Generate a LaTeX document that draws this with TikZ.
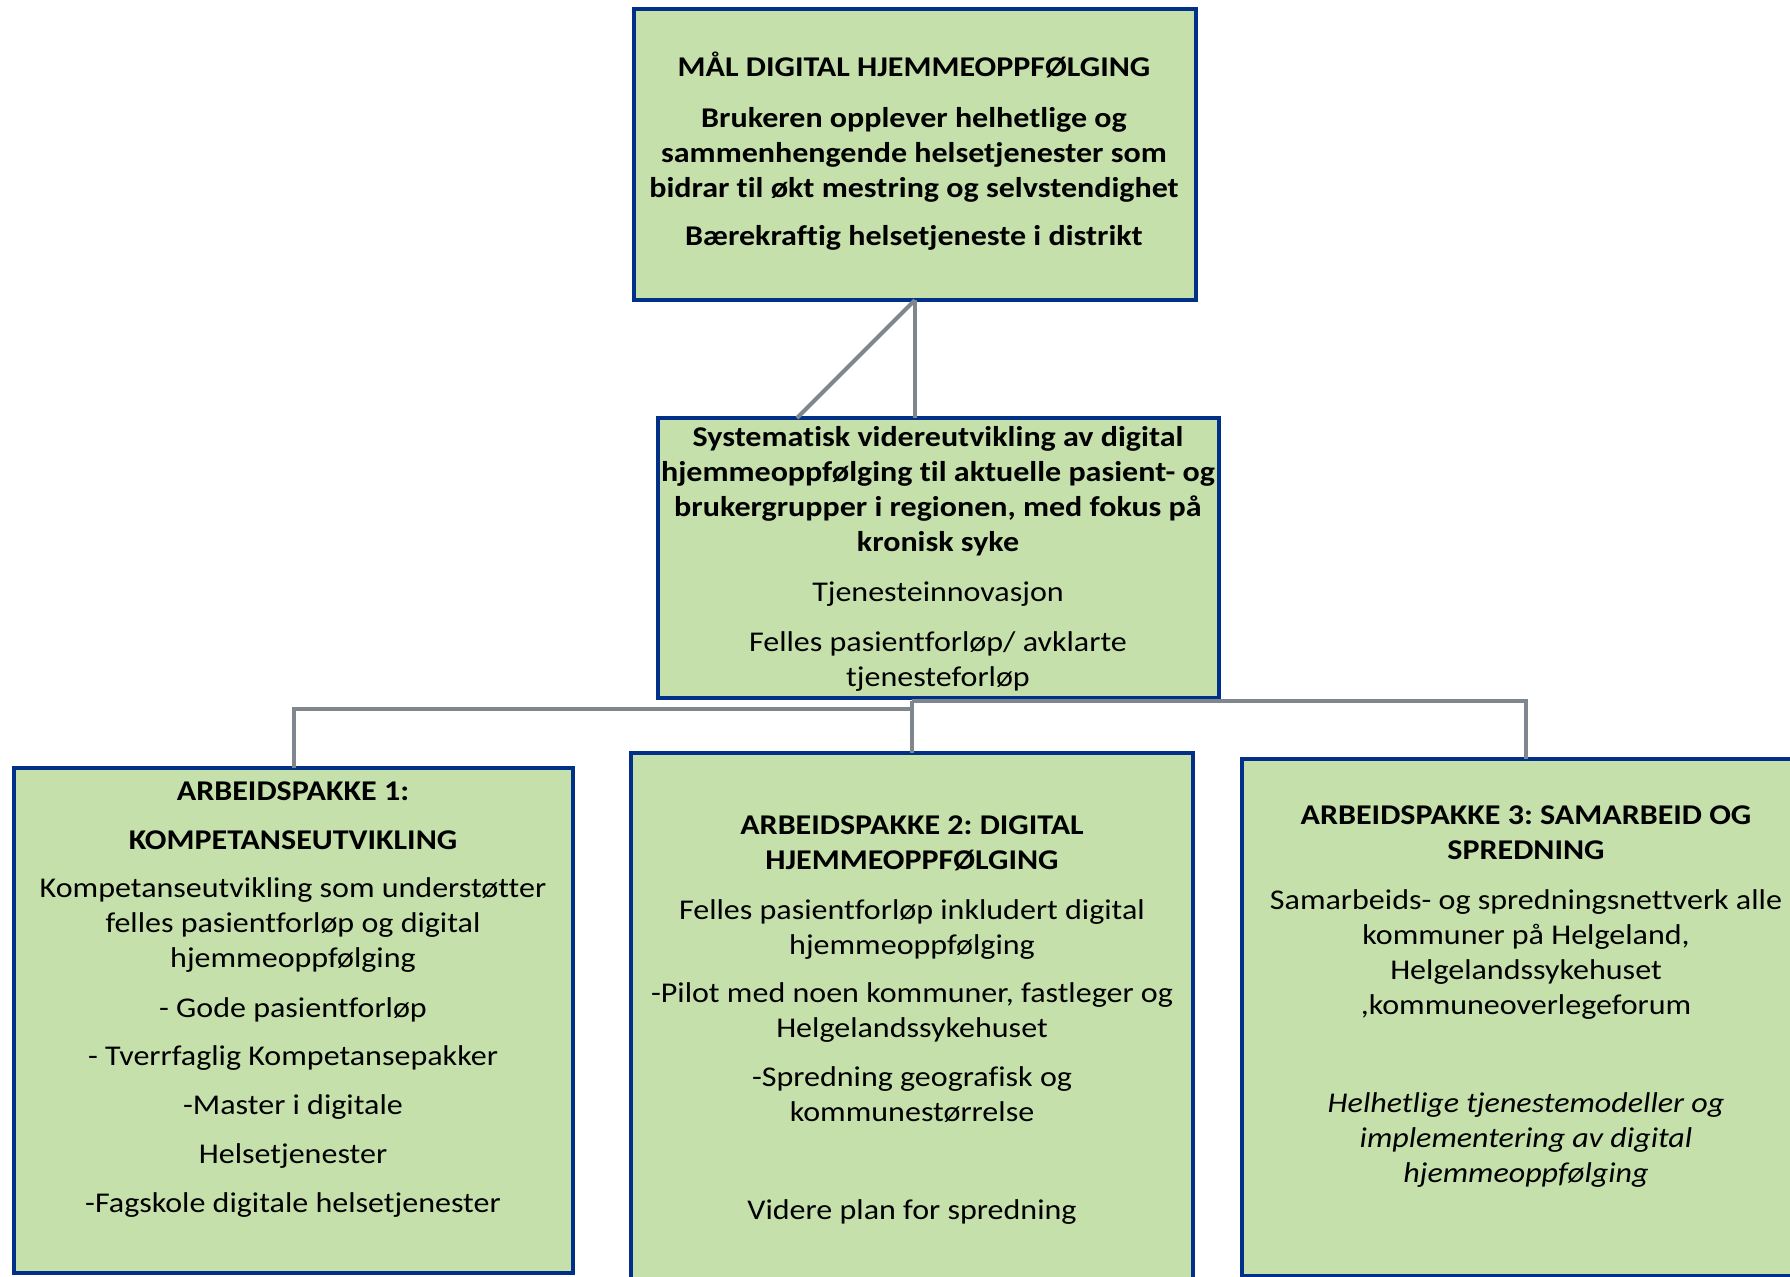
\documentclass[tikz,border=0pt]{standalone}
\usepackage{fontspec}
\setmainfont{Carlito}[FakeStretch=1.12, Ligatures=NoCommon]
\usetikzlibrary{calc}
\definecolor{boxfill}{RGB}{197,224,171}
\definecolor{boxline}{RGB}{0,48,135}
\definecolor{connline}{RGB}{128,134,142}
\frenchspacing
\begin{document}
\begin{tikzpicture}[x=0.5pt,y=-0.5pt,
  box/.style={draw=boxline, fill=boxfill, line width=2pt, inner sep=0pt, outer sep=0pt, anchor=north west},
  conn/.style={draw=connline, line width=2pt},
  txt/.style={font=\fontsize{14.3pt}{17.5pt}\selectfont\frenchspacing, align=center, anchor=base, inner sep=0pt},
  txtb/.style={font=\fontsize{14.3pt}{17.5pt}\selectfont\bfseries\frenchspacing, align=center, anchor=base, inner sep=0pt},
  txti/.style={font=\fontsize{14.3pt}{17.5pt}\selectfont\itshape\frenchspacing, align=center, anchor=base, inner sep=0pt}]
\useasboundingbox (0,0) rectangle (1790,1276);
\clip (0,0) rectangle (1790,1276);

% boxes
\node[box, minimum width=281pt, minimum height=145.5pt] (top) at (634,9) {};
\node[box, minimum width=280.5pt, minimum height=140pt] (mid) at (658,418) {};
\node[box, minimum width=279.5pt, minimum height=252.5pt] (box1) at (14,768) {};
\node[box, minimum width=281pt, minimum height=270pt] (box2) at (631,753) {};
\node[box, minimum width=284pt, minimum height=258.5pt] (box3) at (1242,759) {};

% connectors
\coordinate (hub) at (912,701);
\coordinate (elbow) at (912,709);
\draw[conn] (top.south) -- (top.south |- mid.north);
\draw[conn] (top.south) -- ($(mid.north west)+(139,0)$);
\draw[conn] (hub) -- (box2.north);
\draw[conn] (hub) -| (box3.north);
\draw[conn] (box1.north) |- (elbow) -- (hub);

% top box text (y = baseline of last line)
\node[txtb] (t1) at (914,76) {MÅL DIGITAL HJEMMEOPPFØLGING};
\node[txtb] (t2) at (914,197) {Brukeren opplever helhetlige og\\sammenhengende helsetjenester som\\bidrar til økt mestring og selvstendighet};
\node[txtb] (t3) at (914,245) {Bærekraftig helsetjeneste i distrikt};

% middle box text
\node[txtb] (m1) at (938,551) {Systematisk videreutvikling av digital\\hjemmeoppfølging til aktuelle pasient- og\\brukergrupper i regionen, med fokus på\\kronisk syke};
\node[txt] (m2) at (938,601) {Tjenesteinnovasjon};
\node[txt] (m3) at (938,686) {Felles pasientforløp/ avklarte\\tjenesteforløp};

% box 1 text
\node[txtb] (a1) at (293,800) {ARBEIDSPAKKE 1:};
\node[txtb] (a2) at (293,849) {KOMPETANSEUTVIKLING};
\node[txt] (a3) at (293,967) {Kompetanseutvikling som understøtter\\felles pasientforløp og digital\\hjemmeoppfølging};
\node[txt] (a4) at (293,1017) {- Gode pasientforløp};
\node[txt] (a5) at (293,1065) {- Tverrfaglig Kompetansepakker};
\node[txt] (a6) at (293,1114) {-Master i digitale};
\node[txt] (a7) at (293,1163) {Helsetjenester};
\node[txt] (a8) at (293,1212) {-Fagskole digitale helsetjenester};

% box 2 text
\node[txtb] (b1) at (912,869) {ARBEIDSPAKKE 2: DIGITAL\\HJEMMEOPPFØLGING};
\node[txt] (b2) at (912,954) {Felles pasientforløp inkludert digital\\hjemmeoppfølging};
\node[txt] (b3) at (912,1037) {-Pilot med noen kommuner, fastleger og\\Helgelandssykehuset};
\node[txt] (b4) at (912,1121) {-Spredning geografisk og\\kommunestørrelse};
\node[txt] (b5) at (912,1219) {Videre plan for spredning};

% box 3 text
\node[txtb] (c1) at (1526,859) {ARBEIDSPAKKE 3: SAMARBEID OG\\SPREDNING};
\node[txt] (c2) at (1526,1014) {Samarbeids- og spredningsnettverk alle\\kommuner på Helgeland,\\Helgelandssykehuset\\,kommuneoverlegeforum};
\node[txti] (c3) at (1526,1182) {Helhetlige tjenestemodeller og\\implementering av digital\\hjemmeoppfølging};
\end{tikzpicture}
\end{document}
